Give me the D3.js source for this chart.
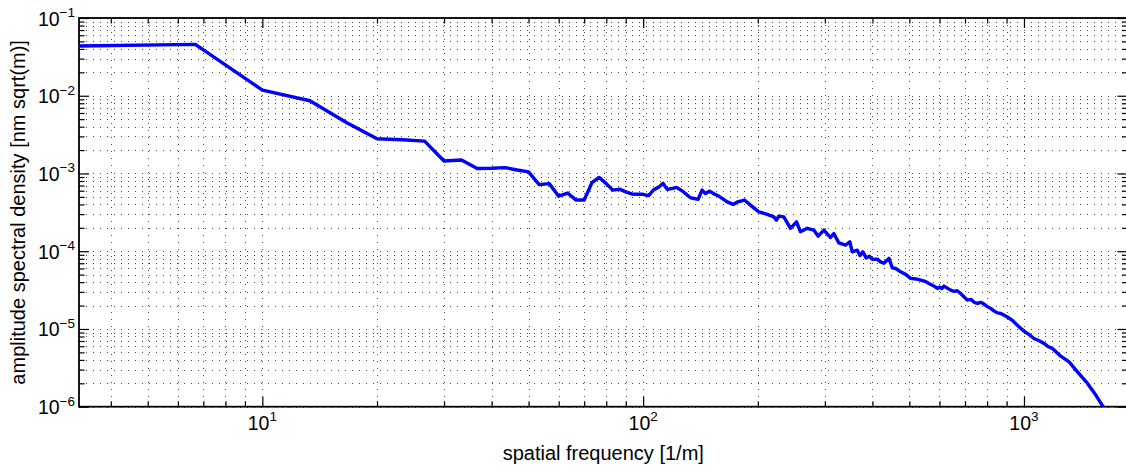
<!DOCTYPE html>
<html><head><meta charset="utf-8">
<script src="https://cdn.jsdelivr.net/npm/d3@7"></script>
<style>
body{margin:0;background:#fff}
svg{display:block}
text{font-family:"Liberation Sans",Arial,Helvetica,sans-serif;fill:#000}
</style>
</head><body>
<svg id="c" width="1126" height="471"></svg>
<script>
// ---- data ----
const frequency = [
  3.3, 6.667, 10, 13.33, 16.67, 20, 23.33, 26.67, 30, 33.33,
  36.67, 40, 43.33, 46.67, 50, 53.33, 56.67, 60, 63.33, 66.67,
  70, 73.33, 76.67, 80, 83.33, 86.67, 90, 93.33, 96.67, 100,
  103.3, 106.7, 110, 112.8, 115.6, 119, 122.3, 127, 133.1, 139.4,
  142.8, 145.7, 149.6, 153, 157.9, 166.2, 172.3, 177.2, 184.5, 191.3,
  201.2, 211.7, 220.3, 223.9, 227, 234, 243.7, 252.7, 258.9, 269.6,
  280.6, 288.2, 298.2, 310.5, 316.7, 326.4, 340, 348.9, 354, 364.9,
  371, 377.5, 385, 392.6, 400, 411.9, 420, 428.6, 441.9, 451.1,
  460.2, 474.2, 490, 503.8, 520, 535.4, 550, 562.9, 578, 592.3,
  600, 608, 616.4, 641.9, 655, 668, 681.7, 710, 725, 740,
  754.4, 770, 785.1, 800, 817.6, 835, 851.4, 870, 904.4, 930,
  960.8, 980, 1000, 1030, 1062.4, 1100, 1128.8, 1160, 1187.5, 1249,
  1313.4, 1381.9, 1468.2, 1543.7, 1613.4, 1700
];
const amplitude = [
  0.0436, 0.0458, 0.01184, 0.00862, 0.0045, 0.0028, 0.00272, 0.00261, 0.00145, 0.00149,
  0.00116, 0.00117, 0.00119, 0.00111, 0.00105, 0.00072, 0.00074, 0.00051, 0.00056, 0.000455,
  0.000455, 0.00076, 0.00089, 0.00074, 0.00061, 0.00063, 0.00058, 0.000545, 0.00054, 0.00054,
  0.00052, 0.00062, 0.00067, 0.000746, 0.000624, 0.00064, 0.000662, 0.00059, 0.000487, 0.000464,
  0.000611, 0.000554, 0.000593, 0.00055, 0.000512, 0.000432, 0.0004, 0.000432, 0.000455, 0.000392,
  0.000321, 0.000298, 0.000277, 0.000251, 0.000283, 0.000277, 0.000197, 0.000239, 0.000178, 0.000197,
  0.000187, 0.000156, 0.000187, 0.00015, 0.000169, 0.000128, 0.00012, 0.000132, 0.0000982, 0.000103,
  0.000088, 0.000098, 0.000082, 0.000086, 0.000079, 0.000079, 0.000073, 0.00007, 0.0000808, 0.000061,
  0.00006, 0.0000543, 0.00005, 0.0000447, 0.000044, 0.0000425, 0.000041, 0.0000385, 0.000036, 0.0000332,
  0.0000345, 0.000033, 0.0000356, 0.0000316, 0.0000305, 0.000031, 0.0000286, 0.0000235, 0.000024, 0.000022,
  0.0000213, 0.000022, 0.0000209, 0.0000195, 0.0000184, 0.000017, 0.0000161, 0.0000158, 0.0000143, 0.000013,
  0.0000112, 0.0000102, 0.00000937, 0.0000085, 0.00000754, 0.000007, 0.00000651, 0.0000059, 0.00000561, 0.00000447,
  0.00000377, 0.0000028, 0.00000199, 0.00000141, 0.000001, 0.00000065
];
const xMajorTicks = [10, 100, 1000];
const xMinorTicks = [4,5,6,7,8,9,20,30,40,50,60,70,80,90,200,300,400,500,600,700,800,900];
const xTickExponents = ["1", "2", "3"];
const yMajorTicks = [1e-6, 1e-5, 1e-4, 1e-3, 1e-2, 1e-1];
const yMinorTicks = [2,3,4,5,6,7,8,9].flatMap(m => [1e-6,1e-5,1e-4,1e-3,1e-2].map(d => +(m*d).toPrecision(3)));
const yTickExponents = ["\u22126", "\u22125", "\u22124", "\u22123", "\u22122", "\u22121"];
const xAxisTitle = "spatial frequency [1/m]";
const yAxisTitle = "amplitude spectral density [nm sqrt(m)]";

// ---- layout ----
const L = 79, R = 1127.5, T = 18, B = 406.7;
const x = d3.scaleLog().domain([3.3, 1870]).range([L, R]);
const y = d3.scaleLog().domain([1e-6, 1e-1]).range([B, T]);
const svg = d3.select("#c");

svg.append("defs").append("clipPath").attr("id","clip")
  .append("rect").attr("x",L).attr("y",T).attr("width",R-L).attr("height",B-T);

// grid (major + minor, dotted)
const grid = svg.append("g").attr("stroke","#000").attr("stroke-width",1)
  .attr("stroke-dasharray","1,6").attr("shape-rendering","crispEdges").attr("opacity",0.7);
grid.selectAll("line.v").data(xMajorTicks.concat(xMinorTicks)).join("line")
  .attr("class","v").attr("x1",d=>Math.round(x(d))+0.5).attr("x2",d=>Math.round(x(d))+0.5)
  .attr("y1",T).attr("y2",B);
grid.selectAll("line.h").data(yMajorTicks.concat(yMinorTicks)).join("line")
  .attr("class","h").attr("y1",d=>Math.round(y(d))+0.5).attr("y2",d=>Math.round(y(d))+0.5)
  .attr("x1",L).attr("x2",R);

// axes ticks (inward, mirrored)
function tickAxis(gen, vals, size, tx, ty){
  const g = svg.append("g").attr("transform",`translate(${tx},${ty})`)
    .call(gen.tickValues(vals).tickSizeInner(-size).tickSizeOuter(0).tickFormat(""));
  g.select(".domain").remove();
  g.selectAll("line").attr("stroke","#000").attr("stroke-width",1.2);
  return g;
}
tickAxis(d3.axisBottom(x), xMajorTicks, 10, 0, B);
tickAxis(d3.axisBottom(x), xMinorTicks, 5.5, 0, B);
tickAxis(d3.axisTop(x), xMajorTicks, 10, 0, T);
tickAxis(d3.axisTop(x), xMinorTicks, 5.5, 0, T);
tickAxis(d3.axisLeft(y), yMajorTicks, 10, L, 0);
tickAxis(d3.axisLeft(y), yMinorTicks, 5.5, L, 0);
tickAxis(d3.axisRight(y), yMajorTicks, 10, R, 0);
tickAxis(d3.axisRight(y), yMinorTicks, 5.5, R, 0);

// box
svg.append("rect").attr("x",L).attr("y",T).attr("width",R-L).attr("height",B-T)
  .attr("fill","none").attr("stroke","#000").attr("stroke-width",1.8);

// data line
const line = d3.line().x((d,i)=>x(frequency[i])).y((d,i)=>y(amplitude[i]));
svg.append("path").datum(amplitude).attr("clip-path","url(#clip)")
  .attr("d",line).attr("fill","none").attr("stroke","#0000ff")
  .attr("stroke-width",3.4).attr("stroke-linejoin","round");

// tick labels
const xl = svg.append("g");
xMajorTicks.forEach((v,i)=>{
  const t = xl.append("text").attr("x",x(v)).attr("y",430).attr("text-anchor","middle").attr("font-size",19.5);
  t.append("tspan").text("10");
  t.append("tspan").attr("dy",-9).attr("font-size",13.5).text(xTickExponents[i]);
});
const yl = svg.append("g");
yMajorTicks.forEach((v,i)=>{
  const t = yl.append("text").attr("x",75).attr("y",y(v)+7.5).attr("text-anchor","end").attr("font-size",19.5);
  t.append("tspan").text("10");
  t.append("tspan").attr("dy",-8.5).attr("font-size",13.5).text(yTickExponents[i]);
});

// axis titles
svg.append("text").attr("x",(L+R)/2).attr("y",460).attr("text-anchor","middle")
  .attr("font-size",20).text(xAxisTitle);
svg.append("text").attr("transform",`translate(25,${(T+B)/2}) rotate(-90)`)
  .attr("text-anchor","middle").attr("font-size",20).text(yAxisTitle);
</script>
</body></html>
